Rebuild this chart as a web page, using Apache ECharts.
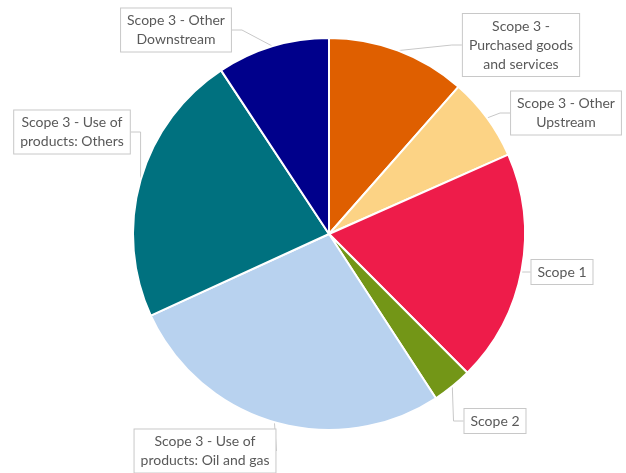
<!DOCTYPE html>
<html>
<head>
<meta charset="utf-8">
<script src="https://cdn.jsdelivr.net/npm/echarts@6/dist/echarts.min.js"></script>
<style>html,body{margin:0;padding:0;background:#fff}#c{width:626px;height:473px}</style>
</head>
<body>
<div id="c"></div>
<script>
var categories = [
  "Scope 3 -\nPurchased goods\nand services",
  "Scope 3 - Other\nUpstream",
  "Scope 1",
  "Scope 2",
  "Scope 3 - Use of\nproducts: Oil and gas",
  "Scope 3 - Use of\nproducts: Others",
  "Scope 3 - Other\nDownstream"
];
var values = [11.5, 6.9, 19.2, 3.3, 27.4, 22.6, 9.3];
var colors = ["#DF5F00", "#FCD385", "#EE1C4A", "#739617", "#B8D2EF", "#00717F", "#00008B"];
// label box centres (layout only)
var labelPos = [[521, 45], [566, 113], [562, 272], [495, 421], [205, 451], [72, 132], [176, 30]];

var chart = echarts.init(document.getElementById('c'), null, {renderer: 'canvas'});
chart.setOption({
  animation: false,
  series: [{
    type: 'pie',
    center: [329, 234],
    radius: 196,
    startAngle: 90,
    clockwise: true,
    avoidLabelOverlap: false,
    itemStyle: {borderColor: '#fff', borderWidth: 2},
    data: categories.map(function (c, i) {
      return {name: c, value: values[i], itemStyle: {color: colors[i]}};
    }),
    label: {
      show: true,
      position: 'outside',
      formatter: '{b}',
      color: '#595959',
      fontFamily: 'Lato',
      fontSize: 14,
      lineHeight: 19,
      align: 'center',
      backgroundColor: '#fff',
      borderColor: '#c8c8c8',
      borderWidth: 1,
      padding: [3, 6, 2, 6]
    },
    labelLine: {
      show: true,
      length: 10,
      length2: 10,
      lineStyle: {color: '#c8c8c8', width: 1}
    },
    labelLayout: function (p) {
      var pos = labelPos[p.dataIndex];
      return {x: pos[0], y: pos[1], align: 'center', verticalAlign: 'middle'};
    }
  }]
});
</script>
</body>
</html>
